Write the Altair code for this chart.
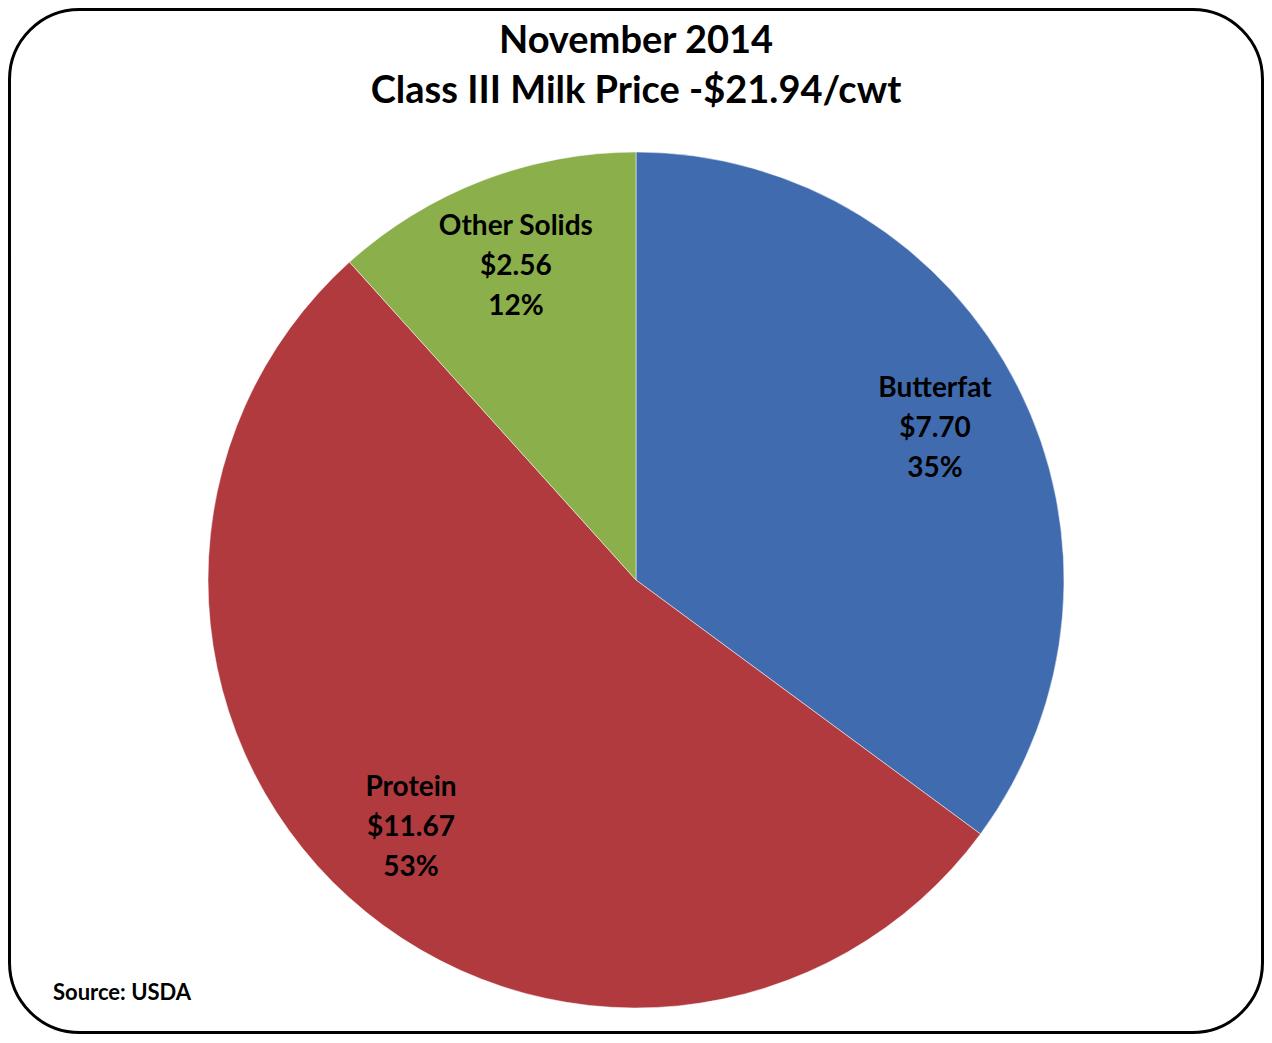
import altair as alt
import pandas as pd

components = ["Butterfat", "Protein", "Other Solids"]
prices = [7.70, 11.67, 2.56]
percents = ["35%", "53%", "12%"]
colors = ["#406CAF", "#B03A3E", "#8BAF4A"]
title_lines = ["November 2014", "Class III Milk Price -$21.94/cwt"]
source_text = "Source: USDA"

FONT = "Lato"
W, H = 1256, 1026
CX, CY, R = 628, 572, 428

df = pd.DataFrame({
    "component": components,
    "price": prices,
    "pct": percents,
    "order": list(range(len(components))),
})
df["label"] = [f"{c}\n${p:.2f}\n{q}" for c, p, q in zip(components, prices, percents)]

base = alt.Chart(df)

pie = base.mark_arc(radius=R, stroke="white", strokeWidth=0.5).encode(
    theta=alt.Theta("price:Q", stack=True),
    order=alt.Order("order:Q"),
    color=alt.Color("component:N", scale=alt.Scale(domain=components, range=colors), legend=None),
    x=alt.value(CX),
    y=alt.value(CY),
)

labels = base.mark_text(
    font=FONT, fontSize=28, fontWeight="bold", color="black",
    lineBreak="\n", lineHeight=40, align="center", baseline="middle", dy=-40,
).encode(
    theta=alt.Theta("price:Q", stack=True),
    order=alt.Order("order:Q"),
    radius=alt.value(335),
    text="label:N",
    x=alt.value(CX),
    y=alt.value(CY),
)

one = alt.Chart(pd.DataFrame({"t": [title_lines[0]]}))

border = one.mark_rect(
    cornerRadius=70, fill=None, fillOpacity=0, stroke="black", strokeWidth=3
).encode(x=alt.value(1.5), x2=alt.value(W - 1.5), y=alt.value(1.5), y2=alt.value(H - 1.5))

title_df = pd.DataFrame({"t": title_lines, "i": [0, 1]})
titles = alt.Chart(title_df).mark_text(
    font=FONT, fontSize=38, fontWeight="bold", color="black", align="center", baseline="middle"
).encode(
    text="t:N",
    x=alt.value(CX),
    y=alt.Y("i:Q", scale=alt.Scale(domain=[0, 1], range=[34, 84]), axis=None),
)

source = alt.Chart(pd.DataFrame({"t": [source_text]})).mark_text(
    font=FONT, fontSize=22, fontWeight="bold", color="black", align="left", baseline="middle"
).encode(text="t:N", x=alt.value(45), y=alt.value(985))

chart = alt.layer(pie, labels, titles, source, border).properties(
    width=W, height=H, padding=0,
    autosize=alt.AutoSizeParams(type="fit", contains="padding"),
).configure_view(stroke=None).resolve_scale(y="independent")

chart.save("out.html", embed_options={"renderer": "svg", "actions": False})
